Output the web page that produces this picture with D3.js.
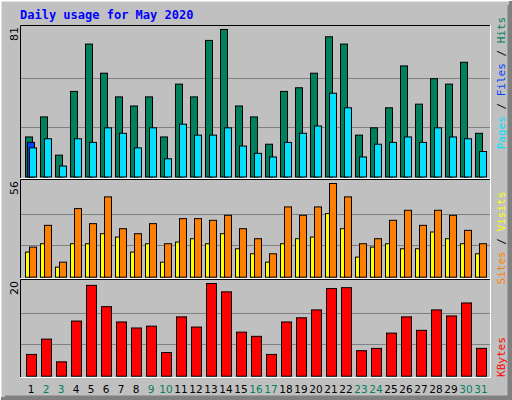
<!DOCTYPE html>
<html><head><meta charset="utf-8">
<script src="https://cdn.jsdelivr.net/npm/d3@7"></script>
<style>body{margin:0;background:#fff}svg{display:block}</style>
</head><body><svg id="c" width="512" height="400"></svg>
<script>
const days = d3.range(1, 32);
const weekend = [2,3,9,10,16,17,23,24,30,31];
const hits = [22,33,12,47,73,57,44,39,44,22,51,44,75,81,39,33,18,47,49,57,77,73,23,27,38,61,40,54,51,63,24];
const files = [0,0,0,0,0,0,0,0,0,0,0,0,0,19,0,0,0,0,0,0,0,0,0,0,0,0,0,0,0,0,0];
const pages = [16,21,6,21,19,27,24,16,27,10,29,23,23,27,17,13,11,19,24,28,46,38,11,18,19,22,19,27,22,21,14];
const sites = [18,31,9,41,32,48,29,26,32,20,35,35,34,37,29,23,14,42,37,42,56,48,20,23,34,40,31,40,37,28,20];
const visits = [15,20,6,20,20,26,24,15,20,9,21,23,20,26,17,14,9,20,23,24,38,29,12,18,20,17,17,27,23,20,14];
const kbytes = [4.7,8.0,3.1,11.9,19.6,15.0,11.7,10.4,10.8,5.1,12.8,10.6,20,18.2,9.5,8.6,4.7,11.7,12.6,14.3,18.9,19.1,5.5,6.0,9.3,12.8,9.9,14.3,13.0,15.8,6.0];
const maxLabels = ["81","56","20"];

const svg = d3.select("#c");
svg.append("rect").attr("width",512).attr("height",400).attr("fill","#C0C0C0");
// outer bevel
svg.append("path").attr("d","M0.5,399.5V0.5H511.5").attr("stroke","#fff").attr("stroke-width",2).attr("fill","none");
svg.append("path").attr("d","M1,398.5H510.5V1").attr("stroke","#808080").attr("stroke-width",3).attr("fill","none");
svg.append("path").attr("d","M5,396.5H508.5V5").attr("stroke","#808080").attr("stroke-width",2).attr("fill","none");

svg.append("text").attr("x",20).attr("y",19).text("Daily usage for May 2020")
  .attr("font-family","DejaVu Sans Mono").attr("font-weight","bold").attr("font-size",12).attr("fill","#0000FF");

const x = d3.scaleLinear().domain([1,32]).range([25,490]);
const L=20, R=491;
const panels = [
  {top:25, bot:179, base:176.5, max:81},
  {top:179, bot:279, base:276.7, max:56},
  {top:279, bot:378, base:375.7, max:20}
];
panels.forEach((p,i)=>{
  const g = svg.append("g");
  const full = p.base - p.top - 3;
  [1/3,2/3].forEach(f=>g.append("line").attr("x1",L).attr("x2",R)
    .attr("y1",Math.round(p.base-full*f)+0.5).attr("y2",Math.round(p.base-full*f)+0.5).attr("stroke","#808080"));
  g.append("path").attr("d",`M${L+0.5},${p.bot}V${p.top+0.5}H${R}`).attr("stroke","#000").attr("fill","none");
  g.append("path").attr("d",`M${L},${p.bot-0.5}H${R-0.5}V${p.top}`).attr("stroke","#fff").attr("fill","none");
  p.y = d3.scaleLinear().domain([0,p.max]).range([p.base, p.top+4]);
  g.append("text").attr("transform",`translate(18,${p.top+2}) rotate(-90)`).attr("text-anchor","end")
   .attr("font-family","DejaVu Sans").attr("font-size",11).text(maxLabels[i]);
});

function bars(data, p, dx, w, color){
  svg.append("g").selectAll("rect").data(data).join("rect")
    .filter(d=>d>0)
    .attr("x",(d,i)=>x(days[i])+dx+0.5).attr("width",w)
    .attr("y",d=>p.y(d)+0.5).attr("height",d=>p.base-p.y(d))
    .attr("fill",color).attr("stroke","#000");
}
bars(hits,panels[0],0,7,"#00805C");
bars(files,panels[0],2,7,"#0040FF");
bars(pages,panels[0],4,7,"#00E0FF");
bars(visits,panels[1],0,4,"#FFFF00");
bars(sites,panels[1],4,7,"#FF8000");
bars(kbytes,panels[2],1,10,"#FF0000");

svg.append("g").selectAll("text").data(days).join("text")
  .attr("x",d=>x(d)+6).attr("y",393).attr("text-anchor","middle")
  .attr("font-family","DejaVu Sans").attr("font-size",10.5)
  .attr("fill",d=>weekend.includes(d)?"#00805C":"#000").text(d=>d);

function sideLabel(cy, parts){
  const t = svg.append("text").attr("transform",`translate(505,${cy}) rotate(-90)`)
    .attr("text-anchor","middle").attr("font-family","DejaVu Sans Mono").attr("font-size",11);
  parts.forEach(([s,c])=>t.append("tspan").attr("fill",c).text(s));
}
sideLabel(83,[["Pages","#00E0FF"],[" / ","#000"],["Files","#0040FF"],[" / ","#000"],["Hits","#00805C"]]);
sideLabel(238,[["Sites","#FF8000"],[" / ","#000"],["Visits","#FFFF00"]]);
sideLabel(357,[["KBytes","#FF0000"]]);
</script></body></html>
